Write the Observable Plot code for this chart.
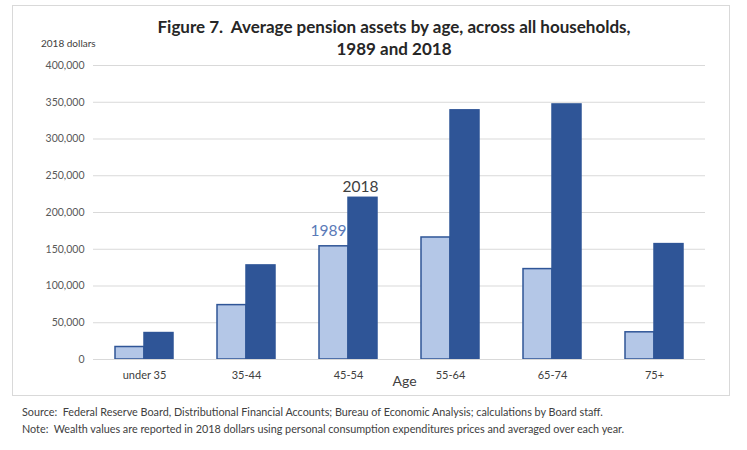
<!DOCTYPE html>
<html><head><meta charset="utf-8">
<script src="https://cdn.jsdelivr.net/npm/d3@7"></script>
<script src="https://cdn.jsdelivr.net/npm/@observablehq/plot@0.6"></script>
<style>
body{margin:0;background:#fff;font-family:Lato,"Open Sans",sans-serif;}
#wrap{position:relative;width:747px;height:450px;overflow:hidden;}
#frame{position:absolute;left:12px;top:5px;width:718px;height:391px;border:1px solid #d9d9d9;box-sizing:border-box;}
#title{position:absolute;left:94px;width:600px;top:16px;text-align:center;font-weight:bold;font-size:17px;line-height:22px;color:#262626;}
#unit{position:absolute;left:41px;top:37px;font-size:10px;color:#404040;}
#chart{position:absolute;left:0;top:0;}
#foot{position:absolute;left:22px;top:403px;font-size:10.8px;line-height:17px;color:#404040;}
</style></head>
<body>
<div id="wrap">
<div id="frame"></div>
<div id="chart"></div>
<div id="title">Figure 7.&nbsp; Average pension assets by age, across all households,<br>1989 and 2018</div>
<div id="unit">2018 dollars</div>
<div id="foot">Source:&nbsp; Federal Reserve Board, Distributional Financial Accounts; Bureau of Economic Analysis; calculations by Board staff.<br>Note:&nbsp; Wealth values are reported in 2018 dollars using personal consumption expenditures prices and averaged over each year.</div>
</div>
<script>
const ages = ["under 35", "35-44", "45-54", "55-64", "65-74", "75+"];
const v1989 = [17000, 74000, 154000, 166000, 123000, 37000];
const v2018 = [36000, 128000, 220000, 339000, 347000, 157000];
const yTicks = [0, 50000, 100000, 150000, 200000, 250000, 300000, 350000, 400000];
const labelAge = "45-54";

const d89 = ages.map((a, i) => ({age: a, value: v1989[i]}));
const d18 = ages.map((a, i) => ({age: a, value: v2018[i]}));
const fmt = d3.format(",");

const chart = Plot.plot({
  width: 747,
  height: 400,
  marginTop: 65,
  marginBottom: 41,
  marginLeft: 93,
  marginRight: 42,
  style: {fontFamily: "Lato, 'Open Sans', sans-serif", background: "transparent"},
  x: {domain: ages, paddingInner: 0.43, paddingOuter: 0.215, label: null},
  y: {domain: [0, 400000], label: null},
  marks: [
    Plot.gridY(yTicks, {stroke: "#d9d9d9", strokeOpacity: 1, strokeWidth: 1}),
    Plot.axisY(yTicks, {tickSize: 0, tickPadding: 9, tickFormat: fmt, fontSize: 10.5, fill: "#595959", label: null}),
    Plot.axisX({tickSize: 0, tickPadding: 12, fontSize: 11, fill: "#404040", label: null}),
    Plot.barY(d89, {x: "age", y: "value", insetRight: 29, fill: "#b4c7e7", stroke: "#2f5597", strokeWidth: 1.5}),
    Plot.barY(d18, {x: "age", y: "value", insetLeft: 29, fill: "#2f5597", stroke: "#2f5597", strokeWidth: 1.5}),
    Plot.ruleY([0], {stroke: "#d9d9d9"}),
    Plot.text(d89.filter(d => d.age === labelAge), {x: "age", y: "value", text: () => "1989", dx: -20, dy: -15, fontSize: 15.5, fill: "#5a7ab8"}),
    Plot.text(d18.filter(d => d.age === labelAge), {x: "age", y: "value", text: () => "2018", dx: 12, dy: -11, fontSize: 15.5, fill: "#404040"}),
    Plot.text(["Age"], {frameAnchor: "bottom", dy: 26, dx: 5, fontSize: 14, fill: "#404040"})
  ]
});
document.getElementById("chart").appendChild(chart);
</script>
</body></html>
